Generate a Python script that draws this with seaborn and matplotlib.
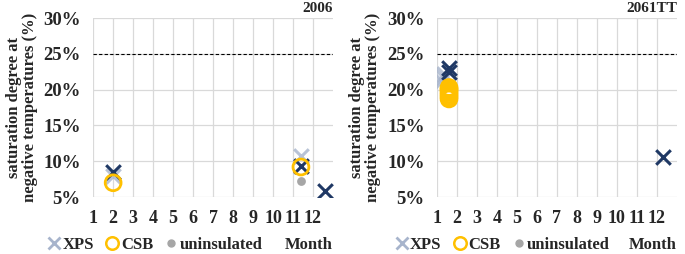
import pandas as pd
import seaborn as sns
import matplotlib.pyplot as plt
from matplotlib.lines import Line2D

# 2006 panel
left_xps_light_month = [2.0, 11.4]
left_xps_light_val = [8.0, 10.8]
left_xps_dark_month = [2.0, 11.4, 12.6]
left_xps_dark_val = [8.5, 9.3, 5.9]
left_csb_month = [2.0, 11.4]
left_csb_val = [7.0, 9.2]
left_unins_month = [11.4]
left_unins_val = [7.3]

# 2061TT panel
right_xps_light_month = [1.25, 1.3, 1.35]
right_xps_light_val = [21.2, 21.7, 22.2]
right_xps_dark_month = [1.6, 1.6, 12.3]
right_xps_dark_val = [22.5, 23.0, 10.6]
right_csb_month = [1.6, 1.6, 1.6, 1.6, 1.6, 1.6, 1.6]
right_csb_val = [18.7, 19.0, 19.3, 19.6, 19.9, 20.1, 20.3]

months = list(range(1, 13))
yticks = [5, 10, 15, 20, 25, 30]
titles = ['2006', '2061TT']

C_LIGHT = '#a7b4cc'
C_DARK = '#1f3864'
C_CSB = '#ffc000'
C_UNINS = '#a6a6a6'
FONT = 'Liberation Serif'


def draw_panel(ax, light, dark, csb, unins, title, leg_x):
    sns.scatterplot(x=light[0], y=light[1], ax=ax, marker='x', color=C_LIGHT,
                    s=110, linewidth=2.2, alpha=0.8, zorder=3)
    sns.scatterplot(x=dark[0], y=dark[1], ax=ax, marker='x', color=C_DARK,
                    s=110, linewidth=2.2, zorder=4)
    sns.scatterplot(x=csb[0], y=csb[1], ax=ax, marker='o', facecolor='none',
                    edgecolor=C_CSB, s=130, linewidth=2.0, zorder=5)
    if unins is not None:
        sns.scatterplot(x=unins[0], y=unins[1], ax=ax, marker='o', color=C_UNINS,
                        s=40, linewidth=0, zorder=3)
    ax.axhline(25, color='black', linestyle=(0, (3, 2)), linewidth=0.8, zorder=2)

    ax.set_xlim(1, 13)
    ax.set_ylim(5, 30)
    ax.set_xticks(months)
    ax.set_yticks(yticks)
    ax.set_yticklabels([f'{v}%' for v in yticks])
    ax.grid(True, color='#d9d9d9', linewidth=0.9)
    ax.set_axisbelow(True)
    for s in ax.spines.values():
        s.set_visible(False)
    ax.tick_params(axis='x', length=0, labelsize=13, pad=9)
    ax.tick_params(axis='y', length=0, labelsize=13.5, pad=9)
    for lab in ax.get_xticklabels() + ax.get_yticklabels():
        lab.set_fontweight('bold')
        lab.set_family(FONT)
    ax.set_xlabel('')
    ax.set_ylabel('saturation degree at\nnegative temperatures (%)',
                  fontsize=12, fontweight='bold', family=FONT, labelpad=4,
                  linespacing=1.0)
    ax.text(1.0, 1.055, title, transform=ax.transAxes, ha='right', va='center',
            fontsize=11, fontweight='bold', family=FONT)
    ax.text(1.0, -0.265, 'Month', transform=ax.transAxes, ha='right', va='center',
            fontsize=12, fontweight='bold', family=FONT)

    handles = [
        Line2D([], [], marker='x', linestyle='none', color=C_LIGHT, markersize=9, markeredgewidth=2),
        Line2D([], [], marker='o', linestyle='none', markerfacecolor='none',
               markeredgecolor=C_CSB, markersize=9, markeredgewidth=1.8),
        Line2D([], [], marker='o', linestyle='none', color=C_UNINS, markersize=5),
    ]
    ax.legend(handles, ['XPS', 'CSB', 'uninsulated'], loc='center left',
              bbox_to_anchor=(leg_x, -0.265), ncol=3, frameon=False,
              handletextpad=0.1, columnspacing=0.7, handlelength=0.8,
              borderpad=0, borderaxespad=0,
              prop={'family': FONT, 'weight': 'bold', 'size': 12})


def main():
    sns.set_theme(style='white')
    fig = plt.figure(figsize=(6.85, 2.54), dpi=100)
    ax1 = fig.add_axes([0.136, 0.224, 0.35, 0.705])
    ax2 = fig.add_axes([0.638, 0.224, 0.35, 0.705])

    draw_panel(ax1, (left_xps_light_month, left_xps_light_val),
               (left_xps_dark_month, left_xps_dark_val),
               (left_csb_month, left_csb_val),
               (left_unins_month, left_unins_val), titles[0], -0.19)
    draw_panel(ax2, (right_xps_light_month, right_xps_light_val),
               (right_xps_dark_month, right_xps_dark_val),
               (right_csb_month, right_csb_val), None, titles[1], -0.175)

    fig.savefig('out.png', dpi=100)
    plt.close(fig)


if __name__ == "__main__":
    main()
